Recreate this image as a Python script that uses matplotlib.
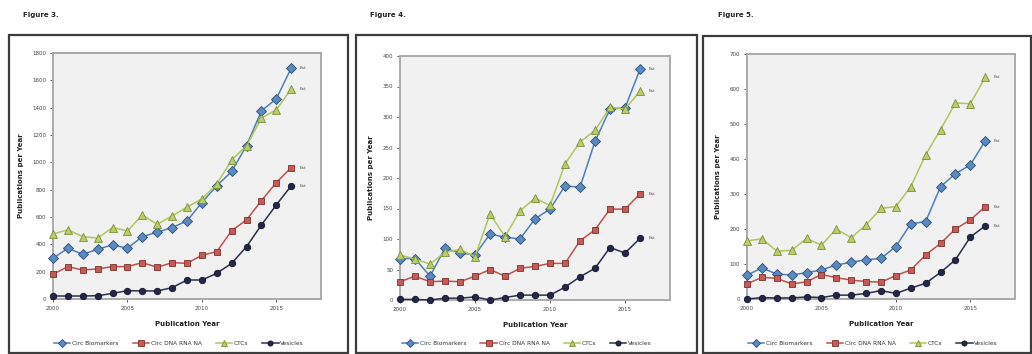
import matplotlib
matplotlib.use("Agg")
import matplotlib.pyplot as plt
from matplotlib.patches import Rectangle

# ---- data -----------------------------------------------------------------
years = list(range(2000, 2017))
series_names = ["Circ Biomarkers", "Circ DNA RNA NA", "CTCs", "Vesicles"]
panel_titles = ["Figure 3.", "Figure 4.", "Figure 5."]

# Figure 3
circ_bio_3 = [298, 371, 327, 364, 396, 371, 457, 488, 523, 571, 706, 828, 933, 1123, 1377, 1465, 1690]
circ_na_3 = [181, 237, 212, 220, 237, 237, 266, 232, 266, 261, 320, 347, 500, 579, 720, 852, 962]
ctcs_3 = [476, 506, 457, 445, 523, 498, 615, 547, 608, 672, 733, 840, 1018, 1121, 1324, 1385, 1536]
ves_3 = [22, 22, 22, 24, 41, 61, 59, 59, 83, 139, 139, 188, 261, 383, 542, 689, 828]

# Figure 4
circ_bio_4 = [68, 68, 39, 85, 77, 74, 108, 103, 100, 133, 149, 187, 185, 260, 313, 315, 378]
circ_na_4 = [30, 39, 30, 31, 30, 39, 50, 39, 52, 55, 60, 60, 97, 115, 149, 149, 174]
ctcs_4 = [74, 67, 59, 78, 83, 71, 141, 104, 146, 167, 155, 223, 259, 278, 316, 313, 342]
ves_4 = [1, 1, 0, 3, 3, 5, 0, 4, 8, 8, 8, 21, 38, 52, 86, 77, 101]

# Figure 5
circ_bio_5 = [68, 89, 71, 69, 75, 83, 97, 105, 112, 116, 150, 215, 221, 321, 358, 383, 452]
circ_na_5 = [43, 62, 59, 43, 49, 70, 61, 54, 50, 48, 67, 83, 126, 159, 200, 226, 264]
ctcs_5 = [166, 172, 137, 139, 173, 154, 200, 175, 212, 259, 264, 321, 412, 484, 560, 558, 633]
ves_5 = [0, 4, 3, 3, 6, 4, 11, 11, 16, 24, 16, 31, 45, 76, 112, 177, 209]

y_max = [1800, 400, 700]
y_step = [200, 50, 100]
end_label = "Est"

# ---- styling ----------------------------------------------------------------
styles = [
    dict(color="#4F7FB8", marker="D", mfc="#5B89C2", mec="#2C4D75", ms=5.0),
    dict(color="#C0504D", marker="s", mfc="#C65A57", mec="#7F2F2D", ms=4.8),
    dict(color="#AFC65C", marker="^", mfc="#B9CE68", mec="#7A8F3A", ms=5.2),
    dict(color="#2B2F4E", marker="o", mfc="#23284A", mec="#111326", ms=4.6),
]

W, H = 1032, 354
fig = plt.figure(figsize=(W / 100, H / 100), dpi=100)
fig.patch.set_facecolor("white")


def px_axes(l, t, r, b):
    return fig.add_axes([l / W, (H - b) / H, (r - l) / W, (b - t) / H])


def px_box(l, t, r, b):
    fig.patches.append(Rectangle((l / W, (H - b) / H), (r - l) / W, (b - t) / H,
                                 transform=fig.transFigure, fill=False,
                                 edgecolor="#3c3c3c", linewidth=1.6, zorder=0))


boxes = [(9, 35, 348, 353), (356, 35, 697, 353), (703, 36, 1031, 353)]
plot_areas = [(53, 53, 321, 299), (400, 56, 670, 300), (747, 54, 1015, 299)]
title_x = [23, 370, 718]

panels = [
    [circ_bio_3, circ_na_3, ctcs_3, ves_3],
    [circ_bio_4, circ_na_4, ctcs_4, ves_4],
    [circ_bio_5, circ_na_5, ctcs_5, ves_5],
]

for i, data in enumerate(panels):
    px_box(*boxes[i])
    fig.text(title_x[i] / W, (H - 15) / H, panel_titles[i], fontsize=5,
             fontweight="bold", ha="left", va="center", color="#222222")

    l, t, r, b = plot_areas[i]
    ax = px_axes(l, t, r, b)
    ax.set_facecolor("#F1F1F2")
    for sp in ax.spines.values():
        sp.set_color("#ABABAB")
        sp.set_linewidth(1.4)

    handles = []
    for name, vals, st in zip(series_names, data, styles):
        h, = ax.plot(years, vals, color=st["color"], lw=1.1, marker=st["marker"],
                     markerfacecolor=st["mfc"], markeredgecolor=st["mec"],
                     markeredgewidth=0.6, markersize=st["ms"], label=name,
                     clip_on=False, zorder=3)
        handles.append(h)
        ax.annotate(end_label, (years[-1], vals[-1]), xytext=(6, 0),
                    textcoords="offset points", fontsize=3.2, color="#555555",
                    va="center", ha="left")

    ax.set_xlim(2000, 2018)
    ax.set_ylim(0, y_max[i])
    ax.set_xticks([2000, 2005, 2010, 2015])
    ax.set_yticks(range(0, y_max[i] + 1, y_step[i]))
    ax.tick_params(labelsize=4, colors="#444444", length=2, width=0.6, pad=3)
    ax.set_xlabel("Publication Year", fontsize=5, fontweight="bold",
                  color="#222222", labelpad=7)
    ax.set_ylabel("Publications per Year", fontsize=5, fontweight="bold",
                  color="#222222", labelpad=6)

    leg_y = -(343 - b) / (b - t)
    leg = ax.legend(handles=handles, loc="center",
                    bbox_to_anchor=(0.47, leg_y), ncol=4, frameon=False,
                    fontsize=4.2, handlelength=2.8, columnspacing=2.4,
                    handletextpad=0.3, markerscale=0.8)
    for tx in leg.get_texts():
        tx.set_color("#333333")

fig.savefig("out.png", dpi=100, facecolor="white")
